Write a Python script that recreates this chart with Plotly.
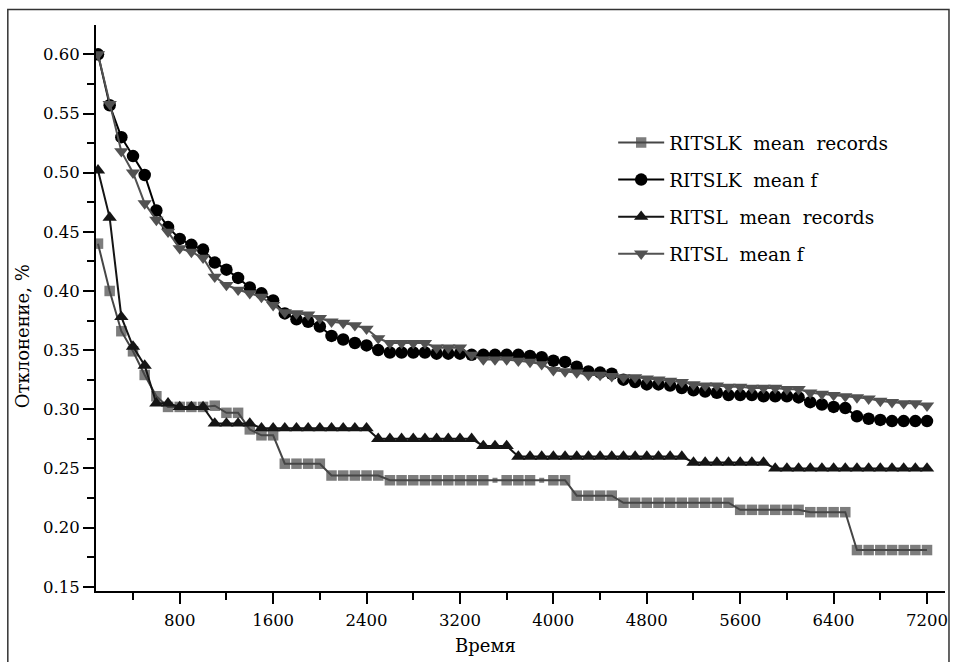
import plotly.graph_objects as go

time_s = [100, 200, 300, 400, 500, 600, 700, 800, 900, 1000,
          1100, 1200, 1300, 1400, 1500, 1600, 1700, 1800, 1900, 2000,
          2100, 2200, 2300, 2400, 2500, 2600, 2700, 2800, 2900, 3000,
          3100, 3200, 3300, 3400, 3500, 3600, 3700, 3800, 3900, 4000,
          4100, 4200, 4300, 4400, 4500, 4600, 4700, 4800, 4900, 5000,
          5100, 5200, 5300, 5400, 5500, 5600, 5700, 5800, 5900, 6000,
          6100, 6200, 6300, 6400, 6500, 6600, 6700, 6800, 6900, 7000,
          7100, 7200]

ritslk_records = [0.440, 0.400, 0.366, 0.349, 0.329, 0.311, 0.302, 0.302, 0.302, 0.302,
                  0.303, 0.297, 0.297, 0.283, 0.278, 0.278, 0.254, 0.254, 0.254, 0.254,
                  0.244, 0.244, 0.244, 0.244, 0.244, 0.240, 0.240, 0.240, 0.240, 0.240,
                  0.240, 0.240, 0.240, 0.240, 0.240, 0.240, 0.240, 0.240, 0.240, 0.240,
                  0.240, 0.227, 0.227, 0.227, 0.227, 0.221, 0.221, 0.221, 0.221, 0.221,
                  0.221, 0.221, 0.221, 0.221, 0.221, 0.215, 0.215, 0.215, 0.215, 0.215,
                  0.215, 0.213, 0.213, 0.213, 0.213, 0.181, 0.181, 0.181, 0.181, 0.181,
                  0.181, 0.181]

ritslk_f = [0.600, 0.557, 0.530, 0.514, 0.498, 0.468, 0.454, 0.444, 0.439, 0.435,
            0.424, 0.418, 0.411, 0.403, 0.398, 0.392, 0.381, 0.376, 0.374, 0.370,
            0.362, 0.359, 0.356, 0.354, 0.350, 0.348, 0.348, 0.348, 0.348, 0.347,
            0.347, 0.347, 0.346, 0.346, 0.346, 0.346, 0.346, 0.345, 0.344, 0.341,
            0.340, 0.336, 0.332, 0.331, 0.330, 0.325, 0.323, 0.321, 0.321, 0.320,
            0.318, 0.316, 0.315, 0.314, 0.312, 0.312, 0.312, 0.311, 0.311, 0.311,
            0.310, 0.306, 0.304, 0.302, 0.301, 0.294, 0.292, 0.291, 0.290, 0.290,
            0.290, 0.290]

ritsl_records = [0.502, 0.462, 0.378, 0.353, 0.337, 0.305, 0.305, 0.302, 0.302, 0.302,
                 0.288, 0.288, 0.288, 0.288, 0.284, 0.284, 0.284, 0.284, 0.284, 0.284,
                 0.284, 0.284, 0.284, 0.284, 0.275, 0.275, 0.275, 0.275, 0.275, 0.275,
                 0.275, 0.275, 0.275, 0.269, 0.269, 0.269, 0.260, 0.260, 0.260, 0.260,
                 0.260, 0.260, 0.260, 0.260, 0.260, 0.260, 0.260, 0.260, 0.260, 0.260,
                 0.260, 0.255, 0.255, 0.255, 0.255, 0.255, 0.255, 0.255, 0.250, 0.250,
                 0.250, 0.250, 0.250, 0.250, 0.250, 0.250, 0.250, 0.250, 0.250, 0.250,
                 0.250, 0.250]

ritsl_f = [0.600, 0.558, 0.518, 0.500, 0.474, 0.460, 0.450, 0.436, 0.433, 0.428,
           0.412, 0.405, 0.401, 0.398, 0.395, 0.388, 0.382, 0.381, 0.380, 0.377,
           0.374, 0.373, 0.371, 0.368, 0.360, 0.356, 0.356, 0.356, 0.356, 0.352,
           0.352, 0.352, 0.346, 0.342, 0.342, 0.342, 0.341, 0.340, 0.338, 0.333,
           0.332, 0.331, 0.329, 0.329, 0.328, 0.327, 0.327, 0.326, 0.325, 0.324,
           0.323, 0.321, 0.320, 0.320, 0.319, 0.319, 0.318, 0.318, 0.318, 0.317,
           0.317, 0.314, 0.313, 0.312, 0.311, 0.310, 0.309, 0.307, 0.306, 0.305,
           0.305, 0.303]

series_names = ["RITSLK\u00a0 mean\u00a0 records", "RITSLK\u00a0 mean f",
                "RITSL\u00a0 mean\u00a0 records", "RITSL\u00a0 mean f"]

y_ticks = [0.15, 0.20, 0.25, 0.30, 0.35, 0.40, 0.45, 0.50, 0.55, 0.60]
x_ticks = [800, 1600, 2400, 3200, 4000, 4800, 5600, 6400, 7200]

# small square markers where the original shows reduced symbols
sq_sizes = [10.5] * len(time_s)
sq_sizes[time_s.index(3500)] = 5
sq_sizes[time_s.index(3900)] = 5

FONT = "DejaVu Serif"
GRAY = "#464646"

fig = go.Figure()
fig.add_trace(go.Scatter(x=time_s, y=ritslk_records, name=series_names[0], mode="lines+markers",
                         legendgroup="a",
                         line=dict(color=GRAY, width=2),
                         marker=dict(symbol="square", size=sq_sizes, color=GRAY, line=dict(width=0))))
fig.add_trace(go.Scatter(x=time_s, y=ritslk_f, name=series_names[1], mode="lines+markers",
                         legendgroup="b",
                         line=dict(color="#000000", width=2),
                         marker=dict(symbol="circle", size=12.5, color="#000000", line=dict(width=0))))
fig.add_trace(go.Scatter(x=time_s, y=ritsl_records, name=series_names[2], mode="lines+markers",
                         legendgroup="c",
                         line=dict(color="#151515", width=2),
                         marker=dict(symbol="triangle-up", size=12.5, color="#151515", line=dict(width=0))))
fig.add_trace(go.Scatter(x=time_s, y=ritsl_f, name=series_names[3], mode="lines+markers",
                         legendgroup="d",
                         line=dict(color="#525252", width=2),
                         marker=dict(symbol="triangle-down", size=12.5, color="#525252", line=dict(width=0))))

axis_common = dict(showgrid=False, zeroline=False, showline=True, linewidth=2, linecolor="black",
                   ticks="outside", ticklen=11, tickwidth=2, tickcolor="black",
                   tickfont=dict(family=FONT, size=16.5, color="black"), mirror=False)

fig.update_xaxes(range=[83, 7354], tickmode="array", tickvals=x_ticks,
                 minor=dict(tickmode="linear", tick0=0, dtick=400, ticks="outside", ticklen=7,
                            tickwidth=2, tickcolor="black"),
                 ticklabelstandoff=2, **axis_common)
fig.update_yaxes(range=[0.1464, 0.6248], tickmode="array", tickvals=y_ticks,
                 ticktext=[f"{v:.2f}" for v in y_ticks],
                 minor=dict(tickmode="linear", tick0=0.125, dtick=0.05, ticks="outside", ticklen=7,
                            tickwidth=2, tickcolor="black"),
                 **axis_common)

L, R, T, B = 96, 7, 25, 71
W, H = 955, 662
pw, ph = W - L - R, H - T - B

def px_x(p):
    return (p - L) / pw

def px_y(p):
    return (H - B - p) / ph

fig.update_layout(
    width=W, height=H,
    margin=dict(l=L, r=R, t=T, b=B),
    paper_bgcolor="white", plot_bgcolor="white",
    font=dict(family=FONT, color="black"),
    showlegend=True,
    legend=dict(x=px_x(615), y=px_y(124), xanchor="left", yanchor="top",
                font=dict(family=FONT, size=18.5, color="black"),
                bgcolor="rgba(0,0,0,0)", borderwidth=0,
                traceorder="grouped", tracegroupgap=10, itemwidth=46),
    annotations=[
        dict(text="Отклонение, %", x=px_x(22), y=px_y(336), xref="paper", yref="paper",
             textangle=-90, showarrow=False, xanchor="center", yanchor="middle",
             font=dict(family=FONT, size=18, color="black")),
        dict(text="Время", x=px_x(487), y=px_y(645), xref="paper", yref="paper",
             showarrow=False, xanchor="center", yanchor="middle",
             font=dict(family=FONT, size=18, color="black")),
    ],
    shapes=[
        dict(type="rect", xref="paper", yref="paper",
             x0=px_x(7.5), x1=px_x(952), y0=px_y(672), y1=px_y(9.5),
             line=dict(color="#333333", width=1.5), fillcolor="rgba(0,0,0,0)", layer="below"),
    ],
)

fig.write_html("out.html")
